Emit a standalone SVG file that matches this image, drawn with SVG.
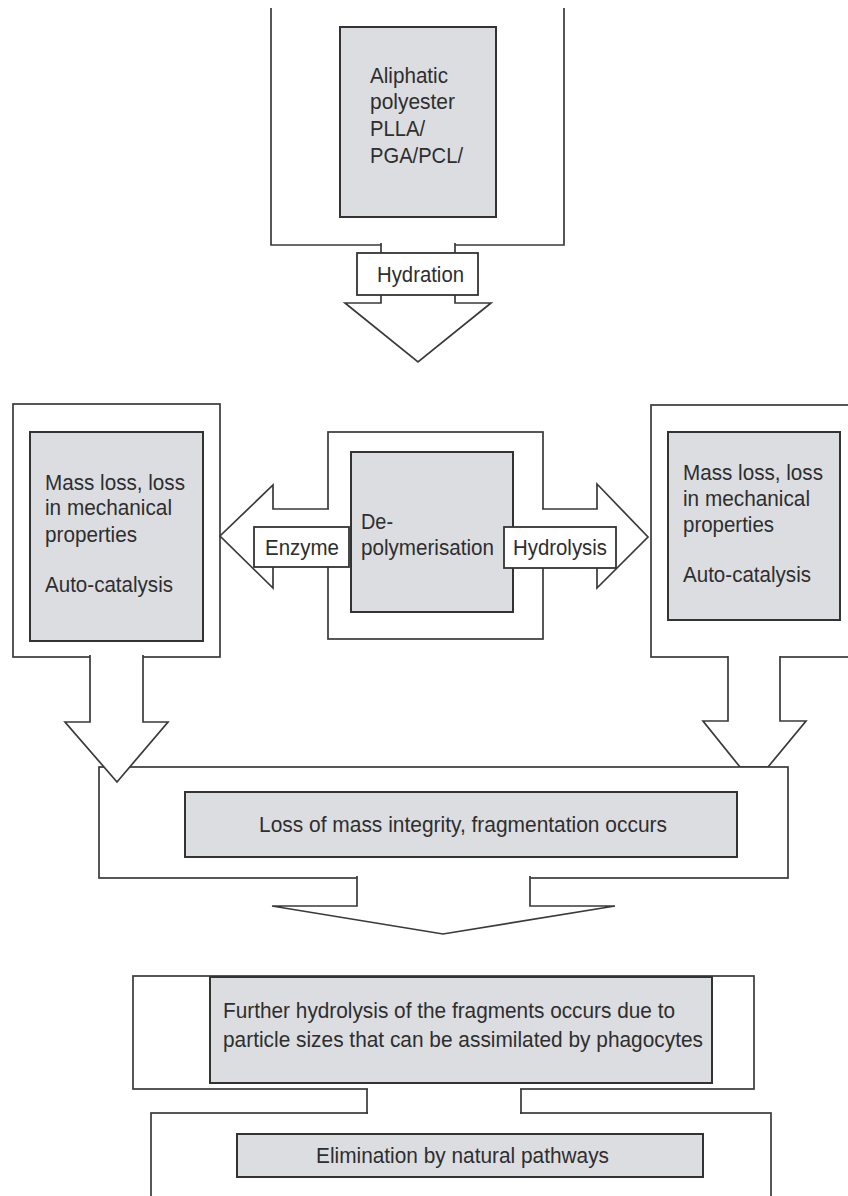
<svg xmlns="http://www.w3.org/2000/svg" width="848" height="1196" viewBox="0 0 848 1196">
<style>
  .frame { fill: #ffffff; stroke: #3a3a3a; stroke-width: 1.7; stroke-linejoin: miter; }
  .gray { fill: #dcdde0; stroke: #333333; stroke-width: 2; }
  .lbl { fill: #ffffff; stroke: #333333; stroke-width: 1.8; }
  .line { fill: none; stroke: #3a3a3a; stroke-width: 1.7; }
  .cover { fill: #ffffff; stroke: none; }
  text { font-family: "Liberation Sans", Arial, sans-serif; font-size: 22.5px; fill: #2e2e2e; }
</style>
<rect x="0" y="0" width="848" height="1196" fill="#ffffff"/>

<g id="node-polyester">
  <path class="frame" d="M271,8 L271,245 L564,245 L564,8"/>
  <rect class="gray" x="340" y="27" width="156" height="190"/>
  <text x="370" y="83" textLength="78" lengthAdjust="spacingAndGlyphs">Aliphatic</text>
  <text x="370" y="109" textLength="85" lengthAdjust="spacingAndGlyphs">polyester</text>
  <text x="370" y="136" textLength="55" lengthAdjust="spacingAndGlyphs">PLLA/</text>
  <text x="370" y="163" textLength="93" lengthAdjust="spacingAndGlyphs">PGA/PCL/</text>
</g>

<g id="node-left-massloss">
  <rect class="frame" x="13" y="404" width="207" height="253"/>
  <rect class="gray" x="30" y="432" width="173" height="209"/>
  <text x="45" y="490" textLength="140" lengthAdjust="spacingAndGlyphs">Mass loss, loss</text>
  <text x="45" y="515" textLength="127" lengthAdjust="spacingAndGlyphs">in mechanical</text>
  <text x="45" y="542" textLength="92" lengthAdjust="spacingAndGlyphs">properties</text>
  <text x="45" y="592" textLength="128" lengthAdjust="spacingAndGlyphs">Auto-catalysis</text>
</g>

<g id="node-right-massloss">
  <rect class="frame" x="651" y="405" width="205" height="252"/>
  <rect class="gray" x="668" y="432" width="172" height="188"/>
  <text x="683" y="480" textLength="140" lengthAdjust="spacingAndGlyphs">Mass loss, loss</text>
  <text x="683" y="506" textLength="127" lengthAdjust="spacingAndGlyphs">in mechanical</text>
  <text x="683" y="532" textLength="91" lengthAdjust="spacingAndGlyphs">properties</text>
  <text x="683" y="582" textLength="128" lengthAdjust="spacingAndGlyphs">Auto-catalysis</text>
</g>

<g id="node-depolymerisation">
  <rect class="frame" x="328" y="432" width="215" height="207"/>
  <rect class="gray" x="351" y="452" width="162" height="160"/>
  <text x="361" y="529" textLength="32" lengthAdjust="spacingAndGlyphs">De-</text>
  <text x="361" y="555" textLength="133" lengthAdjust="spacingAndGlyphs">polymerisation</text>
</g>

<g id="node-right-arrow-under">
  <path class="frame" d="M728,656 L728,721 L703,721 L740,767 L768,767 L806,721 L780,721 L780,656"/>
</g>

<g id="node-fragmentation">
  <rect class="frame" x="99" y="767" width="689" height="111"/>
  <rect class="gray" x="185" y="792" width="552" height="65"/>
  <text x="259" y="832" textLength="408" lengthAdjust="spacingAndGlyphs">Loss of mass integrity, fragmentation occurs</text>
</g>

<g id="node-further-hydrolysis">
  <rect class="frame" x="133" y="976" width="621" height="113"/>
  <rect class="gray" x="210" y="977" width="502" height="106"/>
  <text x="223" y="1018" textLength="452" lengthAdjust="spacingAndGlyphs">Further hydrolysis of the fragments occurs due to</text>
  <text x="223" y="1047" textLength="480" lengthAdjust="spacingAndGlyphs">particle sizes that can be assimilated by phagocytes</text>
</g>

<g id="node-elimination">
  <rect class="frame" x="151" y="1113" width="620" height="100"/>
  <rect class="gray" x="237" y="1134" width="466" height="43"/>
  <text x="316" y="1163" textLength="293" lengthAdjust="spacingAndGlyphs">Elimination by natural pathways</text>
</g>

<g id="connectors">
  <!-- hydration arrow -->
  <path class="frame" d="M381,243 L381,303 L345,303 L418,362 L491,303 L455,303 L455,243"/>
  <!-- enzyme arrow (left) -->
  <path class="frame" d="M329,509 L273,509 L273,485 L220,536 L273,588 L273,563 L329,563"/>
  <!-- hydrolysis arrow (right) -->
  <path class="frame" d="M542,509 L597,509 L597,484 L648,537 L597,588 L597,563 L542,563"/>
  <!-- left down arrow -->
  <path class="frame" d="M90,655 L90,722 L65,722 L117,782 L168,722 L143,722 L143,655"/>
  <!-- fragmentation down arrow -->
  <path class="frame" d="M357,876 L357,906 L272,906 L443,934 L615,906 L530,906 L530,876"/>
  <!-- neck between further hydrolysis and elimination -->
  <rect class="cover" x="368" y="1087" width="152" height="28"/>
  <path class="line" d="M367,1089 L367,1114 M521,1089 L521,1114"/>
  <!-- labels on connectors -->
  <rect class="lbl" x="357" y="253" width="121" height="42"/>
  <text x="377" y="282" textLength="87" lengthAdjust="spacingAndGlyphs">Hydration</text>
  <rect class="lbl" x="254" y="527" width="95" height="40"/>
  <text x="265" y="555" textLength="74" lengthAdjust="spacingAndGlyphs">Enzyme</text>
  <rect class="lbl" x="504" y="527" width="112" height="41"/>
  <text x="513" y="555" textLength="94" lengthAdjust="spacingAndGlyphs">Hydrolysis</text>
</g>
</svg>
